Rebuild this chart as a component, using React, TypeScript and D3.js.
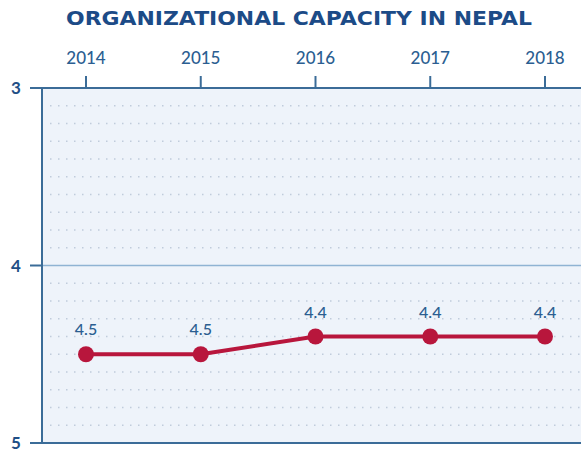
import React from "react";
import * as d3 from "d3";

const years = ["2014", "2015", "2016", "2017", "2018"];
const values = [4.5, 4.5, 4.4, 4.4, 4.4];
const valueLabels = ["4.5", "4.5", "4.4", "4.4", "4.4"];
const yTicks = [3, 4, 5];
const title = "ORGANIZATIONAL CAPACITY IN NEPAL";

const W = 581;
const H = 451;
const left = 42;
const top = 88;
const bottom = 443;

export default function App() {
  const x = d3.scalePoint<string>().domain(years).range([86, 545]);
  const y = d3.scaleLinear().domain([3, 5]).range([top, bottom]);
  const gridVals = d3.range(31, 50).map((v) => v / 10).filter((v) => Math.abs(v - 4) > 1e-6);
  const line = d3
    .line<number>()
    .x((_, i) => x(years[i]) as number)
    .y((d) => y(d));

  const axisColor = "#3b6c98";
  const textColor = "#2b5e91";
  return (
    <svg
      width={W}
      height={H}
      style={{ position: "absolute", left: 0, top: 0, background: "#fff" }}
      fontFamily="Lato, 'Open Sans', sans-serif"
    >
      <text
        x={299}
        y={25}
        textAnchor="middle"
        fontFamily="'DejaVu Sans', sans-serif"
        fontWeight="bold"
        fontSize={19.5}
        fill="#1c4b87"
        textLength={466}
        lengthAdjust="spacingAndGlyphs"
      >
        {title}
      </text>
      <rect x={left} y={top} width={W - left} height={bottom - top} fill="#eef3fa" />
      {gridVals.map((v) => (
        <line
          key={v}
          x1={left + 8}
          x2={W}
          y1={y(v)}
          y2={y(v)}
          stroke="#c0ccdb"
          strokeWidth={1.5}
          strokeDasharray="1.5 6.5"
        />
      ))}
      <line x1={left} x2={W} y1={y(4)} y2={y(4)} stroke="#8fb3d3" strokeWidth={1.5} />
      <line x1={left} x2={W} y1={top} y2={top} stroke={axisColor} strokeWidth={2} />
      <line x1={left} x2={W} y1={bottom} y2={bottom} stroke={axisColor} strokeWidth={2} />
      <line x1={left} x2={left} y1={top} y2={bottom} stroke={axisColor} strokeWidth={2} />
      {yTicks.map((t) => (
        <g key={t}>
          <line x1={30} x2={left} y1={y(t)} y2={y(t)} stroke={axisColor} strokeWidth={2} />
          <text x={16} y={y(t) + 6} textAnchor="middle" fontSize={17} fontWeight="bold" fill="#1f4f86">
            {t}
          </text>
        </g>
      ))}
      {years.map((yr) => (
        <g key={yr}>
          <line x1={x(yr)} x2={x(yr)} y1={76} y2={top} stroke={axisColor} strokeWidth={2} />
          <text x={x(yr)} y={64} textAnchor="middle" fontSize={17} fontWeight={500} fill={textColor}>
            {yr}
          </text>
        </g>
      ))}
      <path d={line(values) || ""} fill="none" stroke="#b8163c" strokeWidth={4} />
      {values.map((v, i) => (
        <g key={i}>
          <circle cx={x(years[i])} cy={y(v)} r={8} fill="#b8163c" />
          <text x={x(years[i])} y={y(v) - 19} textAnchor="middle" fontSize={16} fontWeight={500} fill={textColor}>
            {valueLabels[i]}
          </text>
        </g>
      ))}
    </svg>
  );
}
